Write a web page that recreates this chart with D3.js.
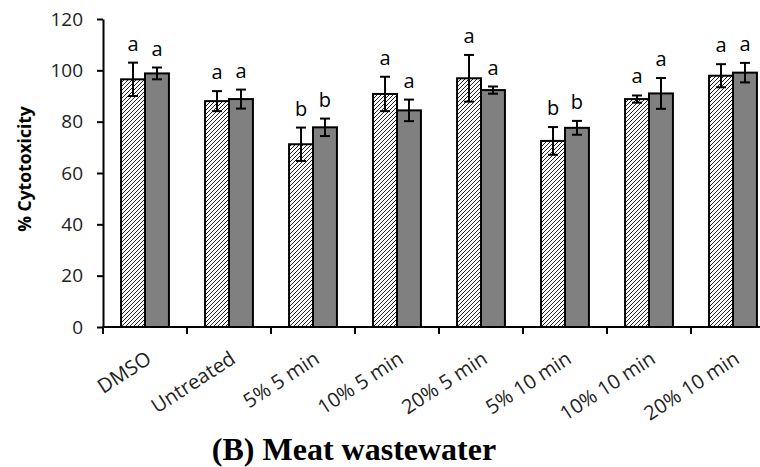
<!DOCTYPE html>
<html><head><meta charset="utf-8">
<script src="https://cdn.jsdelivr.net/npm/d3@7"></script>
<style>body{margin:0;background:#fff}svg{display:block}</style>
</head><body>
<svg id="c" width="760" height="467"></svg>
<script>
const categories = ["DMSO","Untreated","5% 5 min","10% 5 min","20% 5 min","5% 10 min","10% 10 min","20% 10 min"];
const seriesNames = ["hatched","gray"];
const hatchedValues = [96.5, 88.0, 71.2, 90.8, 96.9, 72.5, 88.8, 97.9];
const hatchedErrors = [6.5, 3.9, 6.5, 6.7, 9.1, 5.4, 1.4, 4.5];
const grayValues = [98.8, 88.8, 77.8, 84.4, 92.3, 77.6, 91.0, 99.1];
const grayErrors = [2.3, 3.7, 3.4, 4.2, 1.4, 2.7, 6.0, 3.8];
const hatchedLetters = ["a","a","b","a","a","b","a","a"];
const grayLetters = ["a","a","b","a","a","b","a","a"];
const yTicks = [0,20,40,60,80,100,120];
const yLabel = "% Cytotoxicity";
const title = "(B) Meat wastewater";

const svg = d3.select("#c");
const font = "'Open Sans', sans-serif";

const x = d3.scaleBand().domain(categories).range([103, 775]).paddingInner(0.43).paddingOuter(0.215);
const xs = d3.scaleBand().domain(seriesNames).range([0, x.bandwidth()]);
const y = d3.scaleLinear().domain([0, 120]).range([327, 19]);

const defs = svg.append("defs");
const pat = defs.append("pattern").attr("id","hatch").attr("patternUnits","userSpaceOnUse")
  .attr("width",4).attr("height",4);
pat.append("rect").attr("width",4).attr("height",4).attr("fill","#fff");
pat.append("path").attr("d","M-1,1 l2,-2 M0,4 l4,-4 M3,5 l2,-2").attr("stroke","#222").attr("stroke-width",1);

const rows = categories.map((c,i)=>[
  {cat:c, s:"hatched", v:hatchedValues[i], e:hatchedErrors[i], l:hatchedLetters[i]},
  {cat:c, s:"gray", v:grayValues[i], e:grayErrors[i], l:grayLetters[i]}
]).flat();

// bars
svg.append("g").selectAll("rect").data(rows).join("rect")
  .attr("x", d=>x(d.cat)+xs(d.s))
  .attr("y", d=>y(d.v))
  .attr("width", xs.bandwidth())
  .attr("height", d=>y(0)-y(d.v))
  .attr("fill", d=>d.s==="hatched"?"url(#hatch)":"#808080")
  .attr("stroke","#000").attr("stroke-width",2);

// error bars
const eg = svg.append("g").attr("stroke","#000").attr("stroke-width",2);
rows.forEach(d=>{
  const cx = x(d.cat)+xs(d.s)+xs.bandwidth()/2;
  eg.append("line").attr("x1",cx).attr("x2",cx).attr("y1",y(d.v+d.e)).attr("y2",y(d.v-d.e));
  eg.append("line").attr("x1",cx-5).attr("x2",cx+5).attr("y1",y(d.v+d.e)).attr("y2",y(d.v+d.e));
  eg.append("line").attr("x1",cx-5).attr("x2",cx+5).attr("y1",y(d.v-d.e)).attr("y2",y(d.v-d.e));
});

// letters
svg.append("g").selectAll("text").data(rows).join("text")
  .attr("x", d=>x(d.cat)+xs(d.s)+xs.bandwidth()/2)
  .attr("y", d=>y(d.v+d.e)-12)
  .attr("text-anchor","middle")
  .style("font-family",font).style("font-size","20px").attr("fill","#000")
  .text(d=>d.l);

// y axis
const ya = svg.append("g").attr("transform","translate(103,0)")
  .call(d3.axisLeft(y).tickValues(yTicks).tickSize(6).tickPadding(14).tickSizeOuter(0));
ya.select(".domain").attr("stroke","#000").attr("stroke-width",2);
ya.selectAll(".tick line").attr("stroke","#000").attr("stroke-width",2);
ya.selectAll(".tick text").style("font-family",font).style("font-size","19px").attr("fill","#222");

// x axis
const xa = svg.append("g").attr("transform","translate(0,327)");
xa.append("line").attr("x1",102).attr("x2",760).attr("stroke","#000").attr("stroke-width",2);
d3.range(categories.length+1).forEach(i=>{
  const bx = x.range()[0] + i*x.step();
  xa.append("line").attr("x1",bx).attr("x2",bx).attr("y1",0).attr("y2",7).attr("stroke","#000").attr("stroke-width",2);
});
xa.selectAll("text.cat").data(categories).join("text").attr("class","cat")
  .attr("transform", d=>`translate(${x(d)+x.bandwidth()/2},${23}) rotate(-33)`)
  .attr("text-anchor","end")
  .attr("dy","0.72em")
  .style("font-family",font).style("font-size","20px").attr("fill","#222")
  .text(d=>d);

// y label
svg.append("text").attr("transform","translate(31,169) rotate(-90)")
  .attr("text-anchor","middle")
  .style("font-family",font).style("font-size","17.5px").style("font-weight","bold")
  .text(yLabel);

// title
svg.append("text").attr("x",354).attr("y",460).attr("text-anchor","middle")
  .style("font-family","'Liberation Serif', 'Times New Roman', serif").style("font-size","32px").style("font-weight","bold")
  .text(title);
</script>
</body></html>
